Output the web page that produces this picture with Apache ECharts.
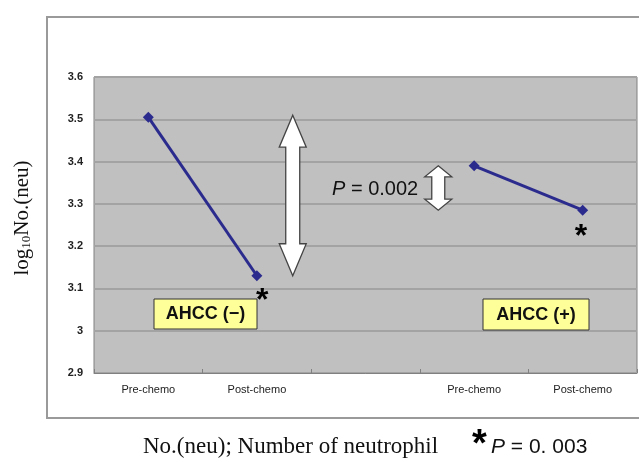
<!DOCTYPE html>
<html><head><meta charset="utf-8">
<script src="https://cdn.jsdelivr.net/npm/echarts@6/dist/echarts.min.js"></script>
<style>html,body{margin:0;padding:0;background:#fff}#c{width:639px;height:462px}</style>
</head><body><div id="c"></div>
<script>
const categories = ['Pre-chemo', 'Post-chemo', '', 'Pre-chemo', 'Post-chemo'];
const ahccMinus = [3.505, 3.13, null, null, null];
const ahccPlus = [null, null, null, 3.39, 3.285];
const yMin = 2.9, yMax = 3.6, yStep = 0.1;
const boxLabels = ['AHCC (\u2212)', 'AHCC (+)'];
const footLabel = 'No.(neu); Number of neutrophil';

const chart = echarts.init(document.getElementById('c'), null, {renderer: 'canvas'});
const lineStyle = {color: '#2b2b8e', width: 3};
chart.setOption({
  animation: false,
  backgroundColor: '#fff',
  grid: {left: 94, top: 77, right: 2, bottom: 89, show: true, backgroundColor: '#c0c0c0', borderColor: '#808080', borderWidth: 1},
  xAxis: {
    type: 'category', data: categories, boundaryGap: true,
    axisLine: {lineStyle: {color: '#808080', width: 1}},
    axisTick: {show: true, inside: true, length: 4, lineStyle: {color: '#808080'}},
    axisLabel: {color: '#222', fontSize: 11, fontFamily: 'Liberation Sans, Arial', margin: 11, interval: 0},
    splitLine: {show: false}
  },
  yAxis: {
    type: 'value', min: yMin, max: yMax, interval: yStep,
    axisLine: {show: false}, axisTick: {show: false},
    axisLabel: {color: '#222', fontSize: 11, fontWeight: 'bold', fontFamily: 'Liberation Sans, Arial', margin: 11,
      formatter: v => String(+v.toFixed(1))},
    splitLine: {lineStyle: {color: '#a3a3a3', width: 2}}
  },
  series: [
    {type: 'line', data: ahccMinus, symbol: 'diamond', symbolSize: 11, lineStyle: lineStyle, itemStyle: {color: '#2b2b8e'}, connectNulls: false},
    {type: 'line', data: ahccPlus, symbol: 'diamond', symbolSize: 11, lineStyle: lineStyle, itemStyle: {color: '#2b2b8e'}, connectNulls: false}
  ]
});

function arrow(cx, yTop, yBot, halfHead, halfShaft, headH) {
  return [[cx, yTop], [cx + halfHead, yTop + headH], [cx + halfShaft, yTop + headH], [cx + halfShaft, yBot - headH],
    [cx + halfHead, yBot - headH], [cx, yBot], [cx - halfHead, yBot - headH], [cx - halfShaft, yBot - headH],
    [cx - halfShaft, yTop + headH], [cx - halfHead, yTop + headH]];
}
const px = (i, v) => chart.convertToPixel({xAxisIndex: 0, yAxisIndex: 0}, [i, v]);
const a0 = px(0, ahccMinus[0]), a1 = px(1, ahccMinus[1]);
const b0 = px(3, ahccPlus[3]), b1 = px(4, ahccPlus[4]);
const catW = a1[0] - a0[0];
const sans = 'Liberation Sans, Arial';

chart.setOption({
  graphic: [
    {type: 'rect', shape: {x: 47, y: 17, width: 700, height: 401}, style: {fill: 'none', stroke: '#9a9a9a', lineWidth: 2}, z: 0, silent: true},
    {type: 'polygon', shape: {points: arrow(a1[0] + catW * 0.33, a0[1] - 2, a1[1], 13.5, 7, 32)}, style: {fill: '#fff', stroke: '#444', lineWidth: 1.3}, z: 10},
    {type: 'polygon', shape: {points: arrow(b0[0] - catW * 0.33, b0[1], b1[1], 13.5, 6.5, 11)}, style: {fill: '#fff', stroke: '#444', lineWidth: 1.3}, z: 10},
    {type: 'text', x: 332, y: 189, style: {text: '{i|P} = 0.002', rich: {i: {fontStyle: 'italic', fontSize: 20, fontFamily: sans, fill: '#111'}}, fontSize: 20, fontFamily: sans, fill: '#111', verticalAlign: 'middle'}, z: 10},
    {type: 'text', x: a1[0] - 1, y: a1[1] + 9, style: {text: '*', font: 'bold 32px Liberation Sans', fill: '#000', verticalAlign: 'top'}, z: 10},
    {type: 'text', x: b1[0] - 8, y: b1[1] + 11, style: {text: '*', font: 'bold 32px Liberation Sans', fill: '#000', verticalAlign: 'top'}, z: 10},
    {type: 'rect', shape: {x: 154, y: 299, width: 103, height: 30}, style: {fill: '#ffff99', stroke: '#333', lineWidth: 1}, z: 10},
    {type: 'text', x: 205.5, y: 314.5, style: {text: boxLabels[0], font: 'bold 18px Liberation Sans', fill: '#111', align: 'center', verticalAlign: 'middle'}, z: 11},
    {type: 'rect', shape: {x: 483, y: 299, width: 106, height: 31}, style: {fill: '#ffff99', stroke: '#333', lineWidth: 1}, z: 10},
    {type: 'text', x: 536, y: 315, style: {text: boxLabels[1], font: 'bold 18px Liberation Sans', fill: '#111', align: 'center', verticalAlign: 'middle'}, z: 11},
    {type: 'text', x: 22, y: 218, rotation: Math.PI / 2, style: {text: 'log{s|10}No.(neu)', rich: {s: {fontSize: 13, fontFamily: 'Liberation Serif', fill: '#111', padding: [9, 0, 0, 0]}}, fontSize: 21, fontFamily: 'Liberation Serif', fill: '#111', align: 'center', verticalAlign: 'middle'}, z: 10},
    {type: 'text', x: 143, y: 447, style: {text: footLabel, font: '23px Liberation Serif', fill: '#111', verticalAlign: 'middle'}, z: 10},
    {type: 'text', x: 472, y: 427, style: {text: '*', font: 'bold 38px Liberation Sans', fill: '#000', verticalAlign: 'top'}, z: 10},
    {type: 'text', x: 491, y: 447, style: {text: '{i|P} = 0. 003', rich: {i: {fontStyle: 'italic', fontSize: 21, fontFamily: sans, fill: '#111'}}, fontSize: 21, fontFamily: sans, fill: '#111', verticalAlign: 'middle'}, z: 10}
  ]
});
</script></body></html>
